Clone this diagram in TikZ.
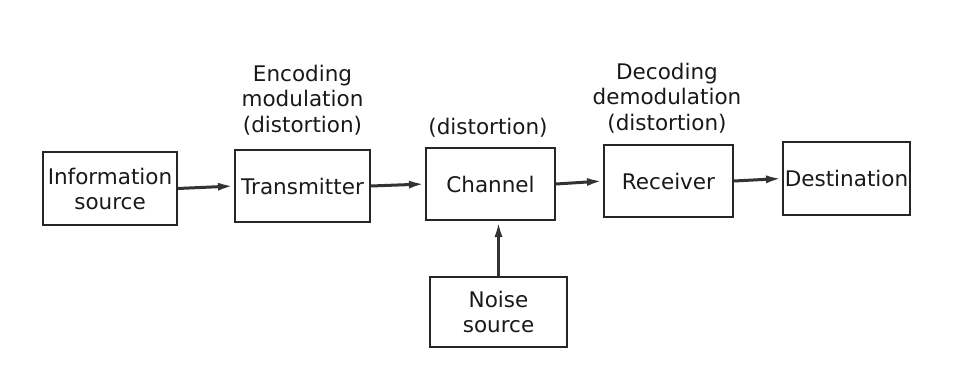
\documentclass[tikz,border=0pt]{standalone}
\usepackage{fontspec}
\setmainfont{DejaVu Sans}
\usetikzlibrary{arrows.meta}
\begin{document}
\begin{tikzpicture}[x=1pt,y=1pt,
  blockbox/.style={draw=black!85,line width=2pt,minimum width=#1,inner sep=0pt,align=center,
     font=\fontsize{21.5}{25}\selectfont,text=black!90},
  blockbox/.default=130pt,
  lbl/.style={align=center,font=\fontsize{21.5}{25.5}\selectfont,inner sep=0pt,text=black!90},
  flow/.style={draw=black!80,line width=3pt,-{Latex[length=16pt,width=8pt]},shorten >=0pt}]
\useasboundingbox (0,0) rectangle (978,373);
\node[blockbox=134pt,minimum height=73pt] (info) at (110,184.5) {Information\\source};
\node[blockbox=135pt,minimum height=72pt] (tx) at (302.5,187) {Transmitter};
\node[blockbox=129pt,minimum height=72pt] (ch) at (490.5,189) {Channel};
\node[blockbox=129pt,minimum height=72pt] (rx) at (668.5,192) {Receiver};
\node[blockbox=127pt,minimum height=73pt] (dest) at (846.5,194.5) {Destination};
\node[blockbox=137pt,minimum height=70pt] (noise) at (498.5,61) {Noise\\source};
\node[lbl] (enc) at (302.5,273) {Encoding\\modulation\\(distortion)};
\node[lbl] (chd) at (488,245) {(distortion)};
\node[lbl] (dec) at (667,275) {Decoding\\demodulation\\(distortion)};
\draw[flow] (info.east) -- (tx.west);
\draw[flow] (tx.east) -- (ch.west);
\draw[flow] (ch.east) -- (rx.west);
\draw[flow] (rx.east) -- (dest.west);
\draw[flow] (noise.north) -- (noise.north |- ch.south);
\end{tikzpicture}
\end{document}
